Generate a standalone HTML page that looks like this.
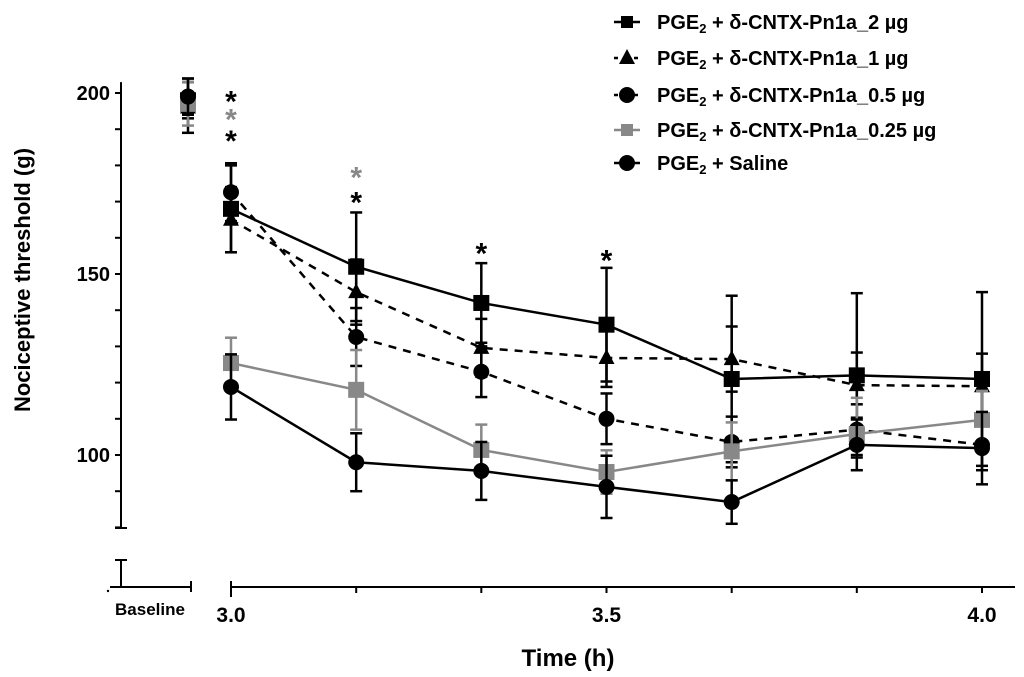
<!DOCTYPE html>
<html><head><meta charset="utf-8"><style>
body{margin:0;background:#fff;}
svg{display:block;font-family:"Liberation Sans",sans-serif;font-weight:bold;}
</style></head><body>
<svg id="chart" width="1024" height="677" viewBox="0 0 1024 677">
<g id="axes"></g><g id="series"></g><g id="legend"></g>
</svg>
<script>
const times=[3.0,3.1667,3.3333,3.5,3.6667,3.8333,4.0];
const names=["PGE2 + δ-CNTX-Pn1a_2 µg","PGE2 + δ-CNTX-Pn1a_1 µg","PGE2 + δ-CNTX-Pn1a_0.5 µg","PGE2 + δ-CNTX-Pn1a_0.25 µg","PGE2 + Saline"];
const baseline=[198,196,199,197,199];
const baselineErr=[5,7,5,6,5];
const s2=[168,152,142,136,121,122,121];
const s1=[165,145,129.6,126.8,126.5,119.3,119];
const s05=[172.6,132.6,123,110,103.6,107,102.8];
const s025=[125.4,118,101.4,95.3,101,105.8,109.7];
const sal=[118.8,98,95.6,91.2,87,102.8,101.9];
const e2=[12,15,11,15.7,23,22.7,24];
const e1=[9,9,8,8,9,9,9];
const e05=[8,8,7,7,7,7,7];
const e025=[7,11,7,6,8,10,8];
const esal=[9,8,8,8.6,6,7,10];
const yTicks=[100,150,200];
const starX=[3.0,3.0,3.0,3.1667,3.1667,3.3333,3.5];
const starY=[201,196,190,180,173,159,157];
const starGray=[0,1,0,1,0,0,0];
const NS="http://www.w3.org/2000/svg";
function X(t){return 231+(t-3)*751;}
function Y(v){return 455-(v-100)*3.62;}
const BX=188;
function el(tag,at,parent){const e=document.createElementNS(NS,tag);for(const k in at)e.setAttribute(k,at[k]);parent.appendChild(e);return e;}
const ax=document.getElementById('axes');
let yl=el('line',{x1:121,y1:Y(203),x2:121,y2:528,stroke:'#000','stroke-width':2},ax);


el('line',{x1:115,y1:528,x2:127,y2:528,stroke:'#000','stroke-width':2},ax);
el('line',{x1:121,y1:560,x2:121,y2:587,stroke:'#000','stroke-width':2},ax);
el('line',{x1:115,y1:560,x2:127,y2:560,stroke:'#000','stroke-width':2},ax);
for(let v=80;v<=200;v+=10){el('line',{x1:115,y1:Y(v),x2:121,y2:Y(v),stroke:'#000','stroke-width':2},ax);}
yTicks.forEach(v=>{const t=el('text',{x:110,y:Y(v)+7,'text-anchor':'end','font-size':20},ax);t.textContent=v;

});
el('line',{x1:110,y1:587,x2:191,y2:587,stroke:'#000','stroke-width':2},ax);
el('line',{x1:191,y1:581,x2:191,y2:592,stroke:'#000','stroke-width':2},ax);
let xl=el('line',{x1:231,y1:587,x2:1015,y2:587,stroke:'#000','stroke-width':2},ax);


el('line',{x1:231,y1:581,x2:231,y2:597,stroke:'#000','stroke-width':2},ax);
times.forEach(t=>{if(t>3)el('line',{x1:X(t),y1:587,x2:X(t),y2:593,stroke:'#000','stroke-width':2},ax);});
el('circle',{cx:108,cy:591,r:1.2,fill:'#000'},ax);
[[3.0,'3.0'],[3.5,'3.5'],[4.0,'4.0']].forEach(([t,s])=>{const e=el('text',{x:X(t),y:622,'text-anchor':'middle','font-size':21},ax);e.textContent=s;

});
let bl=el('text',{x:150,y:615,'text-anchor':'middle','font-size':17},ax);bl.textContent='Baseline';


let xt=el('text',{x:568,y:666,'text-anchor':'middle','font-size':24},ax);xt.textContent='Time (h)';


let yt=el('text',{x:0,y:0,'text-anchor':'middle','font-size':22,transform:'translate(30,280) rotate(-90)'},ax);yt.textContent='Nociceptive threshold (g)';


const sg=document.getElementById('series');
const defs=[
 {v:s2,e:e2,c:'#000',m:'square',d:null,n:'series-2ug'},
 {v:s1,e:e1,c:'#000',m:'triangle',d:'8,7',n:'series-1ug'},
 {v:s05,e:e05,c:'#000',m:'circle',d:'8,7',n:'series-0-5ug'},
 {v:s025,e:e025,c:'#888',m:'square',d:null,n:'series-0-25ug'},
 {v:sal,e:esal,c:'#000',m:'circle',d:null,n:'series-saline'}];
function marker(p,m,x,y,c){
 if(m==='square')return el('rect',{x:x-8,y:y-8,width:16,height:16,fill:c},p);
 if(m==='triangle')return el('polygon',{points:`${x},${y-9} ${x-8},${y+6} ${x+8},${y+6}`,fill:c},p);
 return el('circle',{cx:x,cy:y,r:8,fill:c},p);}
function ebar(p,x,v,e,c){
 el('line',{x1:x,y1:Y(v+e),x2:x,y2:Y(v-e),stroke:c,'stroke-width':2.5},p);
 el('line',{x1:x-6,y1:Y(v+e),x2:x+6,y2:Y(v+e),stroke:c,'stroke-width':2.5},p);
 el('line',{x1:x-6,y1:Y(v-e),x2:x+6,y2:Y(v-e),stroke:c,'stroke-width':2.5},p);}
defs.forEach((s,i)=>{
 const g=el('g',{},sg);
 
 
 s.v.forEach((v,j)=>ebar(g,X(times[j]),v,s.e[j],s.c));
 ebar(g,BX,baseline[i],baselineErr[i],s.c);
 const pts=s.v.map((v,j)=>X(times[j])+','+Y(v)).join(' ');
 const pl=el('polyline',{points:pts,fill:'none',stroke:s.c,'stroke-width':2.5},g);
 if(s.d)pl.setAttribute('stroke-dasharray',s.d);
 s.v.forEach((v,j)=>{const mk=marker(g,s.m,X(times[j]),Y(v),s.c);
  
  });
 marker(g,s.m,BX,Y(baseline[i]),s.c);
});
starX.forEach((t,k)=>{const s=el('text',{x:X(t),y:Y(starY[k])+22,'text-anchor':'middle','font-size':30,fill:starGray[k]?'#888':'#000'},sg);s.textContent='*';
 
 });
const lg=document.getElementById('legend');
const ly=[22,58,95,130,163];
const labels=[['_2 µg'],['_1 µg'],['_0.5 µg'],['_0.25 µg'],null];
defs.forEach((s,i)=>{
 const g=el('g',{},lg);
 
 
 const ln=el('line',{x1:614,y1:ly[i],x2:640,y2:ly[i],stroke:s.c,'stroke-width':2.5},g);
 if(s.d)ln.setAttribute('stroke-dasharray','4,6');
 const m=marker(g,s.m,627,ly[i],s.c);
 if(s.m==='square'){m.setAttribute('x',621);m.setAttribute('y',ly[i]-6);m.setAttribute('width',12);m.setAttribute('height',12);}
 const t=el('text',{x:657,y:ly[i]+7,'font-size':20},g);
 t.appendChild(document.createTextNode('PGE'));
 const sub=el('tspan',{'font-size':13,dy:4},t);sub.textContent='2';
 const rest=el('tspan',{dy:-4},t);
 rest.textContent=labels[i]?' + δ-CNTX-Pn1a'+labels[i][0]:' + Saline';
});
</script>
</body></html>
